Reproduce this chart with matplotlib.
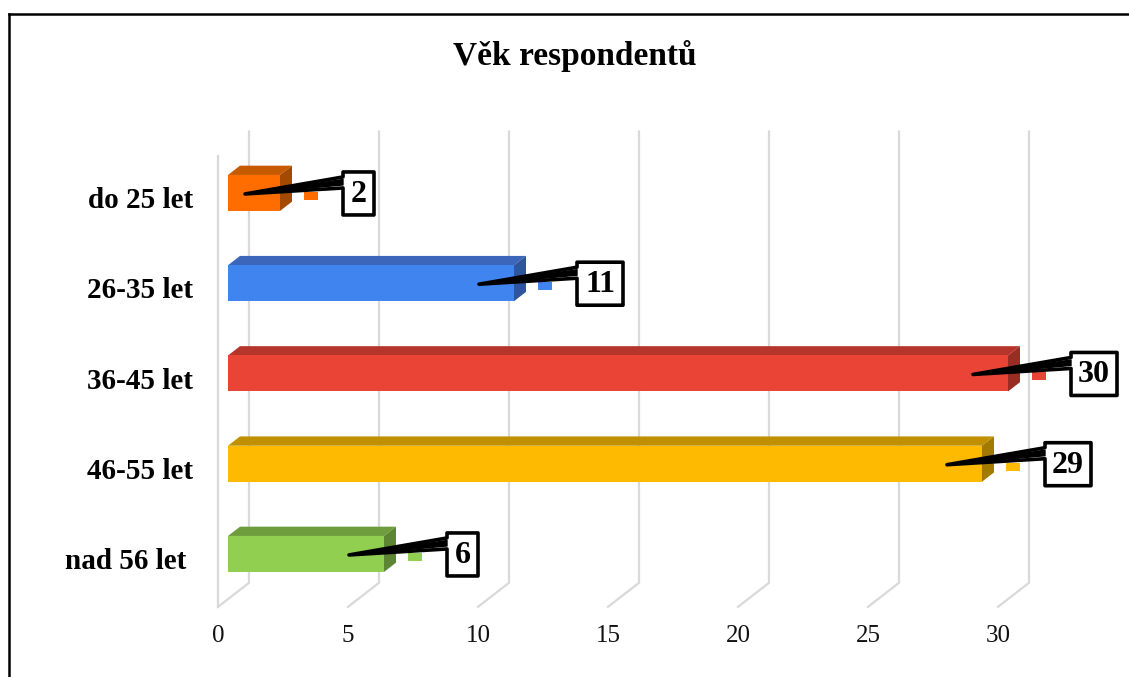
import matplotlib
matplotlib.use("Agg")
import matplotlib.pyplot as plt
from matplotlib.patches import Polygon, Rectangle
from matplotlib.lines import Line2D

# ---- data -------------------------------------------------------------
title = "Věk respondentů"
categories = ["do 25 let", "26-35 let", "36-45 let", "46-55 let", "nad 56 let "]
values = [2, 11, 30, 29, 6]
x_ticks = [0, 5, 10, 15, 20, 25, 30]

# face colours per bar: front, top, side
front_colors = ["#FF6C00", "#3F84EF", "#E94436", "#FDBA00", "#90CF50"]
top_colors = ["#C65A00", "#3C66B9", "#B6352A", "#C09000", "#6E9D3D"]
side_colors = ["#A44A00", "#2F559E", "#992C23", "#A37A00", "#5D8634"]

# ---- figure / 3-D projection helpers ---------------------------------
W, H, DPI = 1129, 677, 100
fig = plt.figure(figsize=(W / DPI, H / DPI), dpi=DPI)
ax = fig.add_axes([0, 0, 1, 1])
ax.set_axis_off()

XPX = 26.0    # pixels per value unit
YPX = 90.25   # pixels per category step
X0PX = 218.0  # value 0 on the front plane
Y0PX = 200.7  # first category on the front plane
ax.set_xlim(-X0PX / XPX, (W - X0PX) / XPX)
ax.set_ylim((H - Y0PX) / YPX, -Y0PX / YPX)

DX = 31.0 / XPX   # depth shift (value units)
DY = 24.0 / YPX   # depth shift (category units)
ZF, ZB = 10.0 / 31.0, 22.0 / 31.0  # bar front/back depth


def proj(v, c, z):
    return (v + z * DX, c - z * DY)


FLOOR, CEIL = len(categories) - 0.5, -0.5
GRID = "#D9D9D9"

# back-wall gridlines and floor lines
for v in x_ticks:
    bx0, by0 = proj(v, CEIL, 1)
    bx1, by1 = proj(v, FLOOR, 1)
    fx, fy = proj(v, FLOOR, 0)
    ax.plot([bx0, bx1, fx], [by0, by1, fy], color=GRID, lw=1.6,
            solid_joinstyle="miter", zorder=1)
# front edge of the side wall
ax.plot([0, 0], [CEIL, FLOOR], color=GRID, lw=1.6, zorder=1)

# tick labels
for v in x_ticks:
    ax.text(v, (636 - Y0PX) / YPX, str(v), ha="center", va="center",
            fontsize=18, family="Liberation Serif", color="#111111")

# category labels
for i, cat in enumerate(categories):
    ax.text(-25.0 / XPX, i, cat, ha="right", va="center",
            fontsize=21, fontweight="bold", family="Liberation Serif")

# ---- bars -------------------------------------------------------------
h = 18.0 / YPX
for i, val in enumerate(values):
    front = [proj(0, i - h, ZF), proj(val, i - h, ZF),
             proj(val, i + h, ZF), proj(0, i + h, ZF)]
    top = [proj(0, i - h, ZF), proj(val, i - h, ZF),
           proj(val, i - h, ZB), proj(0, i - h, ZB)]
    side = [proj(val, i - h, ZF), proj(val, i + h, ZF),
            proj(val, i + h, ZB), proj(val, i - h, ZB)]
    ax.add_patch(Polygon(top, closed=True, fc=top_colors[i], ec="none", zorder=3))
    ax.add_patch(Polygon(side, closed=True, fc=side_colors[i], ec="none", zorder=3))
    ax.add_patch(Polygon(front, closed=True, fc=front_colors[i], ec="none", zorder=3))

    # small legend key beside the bar end
    kx, ky = proj(val + 24.0 / XPX, i - 1.0 / YPX, ZF)
    ax.add_patch(Rectangle((kx, ky), 14.0 / XPX, 8.0 / YPX,
                           fc=front_colors[i], ec="none", zorder=4))

    # callout with the value
    label = str(val)
    tip = proj(val - 35.0 / XPX, i + 1.0 / YPX, ZF)
    L = val + 63.0 / XPX
    R = L + (16 + 15 * len(label)) / XPX
    T = i - 21.0 / YPX
    B = i + 22.0 / YPX
    pts = [(L, T), (R, T), (R, B), (L, B), (L, T + 16.0 / YPX),
           None, (L, T + 5.0 / YPX)]
    pts = [proj(p[0], p[1], ZF) if p is not None else tip for p in pts]
    ax.add_patch(Polygon(pts, closed=True, fc="white", ec="black", lw=2.6,
                         joinstyle="round", zorder=5))
    wedge = [tip, proj(L, T + 7.5 / YPX, ZF), proj(L, T + 13.0 / YPX, ZF)]
    ax.add_patch(Polygon(wedge, closed=True, fc="black", ec="black", lw=1.0,
                         joinstyle="round", zorder=5.5))
    cx, cy = proj((L + R) / 2, (T + B) / 2 + 1.0 / YPX, ZF)
    ax.text(cx, cy, label, ha="center", va="center", fontsize=23,
            fontweight="bold", family="Liberation Serif", zorder=6)

# ---- title and outer frame -------------------------------------------
fig.text(575 / W, 1 - 65 / H, title, ha="center", va="baseline",
         fontsize=24, fontweight="bold", family="Liberation Serif")

fig.add_artist(Line2D([9 / W, 9 / W], [1 - 14 / H, 0], color="black",
                      lw=1.8, transform=fig.transFigure))
fig.add_artist(Line2D([9 / W, 1], [1 - 14 / H, 1 - 14 / H], color="black",
                      lw=1.8, transform=fig.transFigure))

fig.savefig("out.png", dpi=DPI, facecolor="white")
